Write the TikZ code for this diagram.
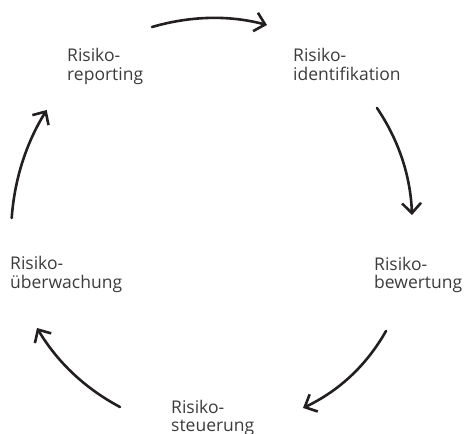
\documentclass[tikz,border=0pt]{standalone}
\usepackage{fontspec}
\setmainfont{Open Sans}
\usetikzlibrary{arrows.meta}
\definecolor{ink}{HTML}{231F20}
\definecolor{txt}{HTML}{3C3C3C}
\tikzset{
  lbl/.style={anchor=base west, inner sep=0pt, align=left, text=txt,
    font=\fontsize{17.5}{18.5}\selectfont},
  cyc/.style={draw=ink, line width=2.6pt, line cap=round,
    -{Straight Barb[length=10pt,width=19pt,line width=2.6pt]}}
}
\begin{document}
\begin{tikzpicture}[x=1pt,y=-1pt]
\useasboundingbox (0,0) rectangle (467,434);
\node[lbl] (rep) at (67,80) {Risiko-\\reporting};
\node[lbl] (ide) at (293,80) {Risiko-\\identifikation};
\node[lbl] (bew) at (374,288.5) {Risiko-\\bewertung};
\node[lbl] (ueb) at (10,288) {Risiko-\\überwachung};
\node[lbl] (ste) at (171,431.5) {Risiko-\\steuerung};
\coordinate (a1s) at (152,27);   \coordinate (a1e) at (267,25);
\coordinate (a2s) at (377,108);  \coordinate (a2e) at (412,215);
\coordinate (a3s) at (386,331);  \coordinate (a3e) at (303,408);
\coordinate (a4s) at (120,407);  \coordinate (a4e) at (37,328);
\coordinate (a5s) at (11.7,218); \coordinate (a5e) at (46.7,110);
\draw[cyc] (a1s) .. controls (191,15.7) and (229.3,15) .. (a1e);
\draw[cyc] (a2s) .. controls (398.8,140.3) and (410.5,176) .. (a2e);
\draw[cyc] (a3s) .. controls (366.5,365.5) and (338.8,391) .. (a3e);
\draw[cyc] (a4s) .. controls (85,388.4) and (57.3,362.1) .. (a4e);
\draw[cyc] (a5s) .. controls (14.5,179.1) and (26.2,143.1) .. (a5e);
\end{tikzpicture}
\end{document}
